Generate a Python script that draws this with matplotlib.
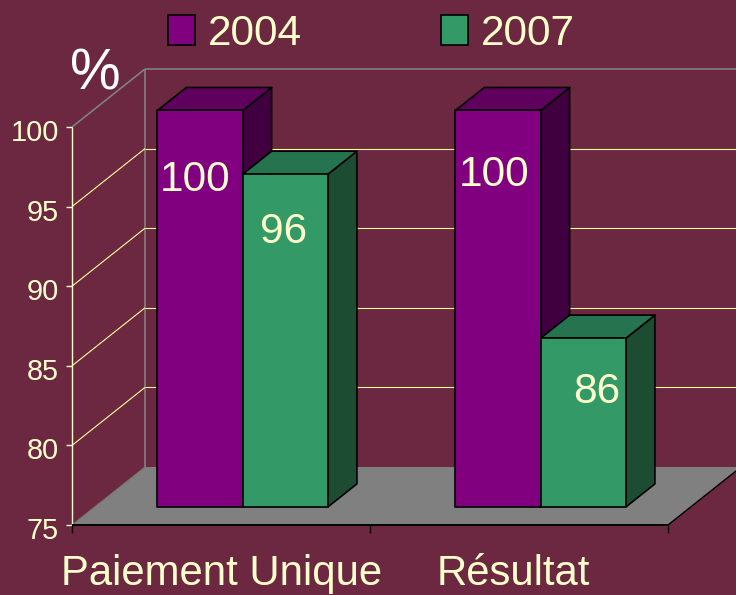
import matplotlib
matplotlib.use("Agg")
import matplotlib.pyplot as plt
from matplotlib.patches import Patch

plt.rcParams['font.family'] = ['Liberation Sans', 'DejaVu Sans']

categories = ["Paiement Unique", "Résultat"]
series_names = ["2004", "2007"]
values_2004 = [100, 100]
values_2007 = [96, 85.7]
y_ticks = [75, 80, 85, 90, 95, 100]

BG = "#6B2840"
CREAM = "#FFFFCC"
GRID = "#FFFF99"
GREY = "#808080"
series_colors = [("#800080", "#5F005F", "#400040"),
                 ("#339966", "#267350", "#1C4D33")]

W, H = 736, 595
fig = plt.figure(figsize=(W / 100, H / 100), dpi=100, facecolor=BG)
ax = fig.add_axes([0, 0, 1, 1])
ax.axis("off")

# scales: front plane of the chart box
PX_X = 298.0      # pixels per category
PX_Y = 15.92      # pixels per value unit
LEFT, BASE = 72.0, 525.0
ax.set_xlim(-LEFT / PX_X, (W - LEFT) / PX_X)
ax.set_ylim(75 - (H - BASE) / PX_Y, 75 + BASE / PX_Y)

DEPTH_X = 73.0 / PX_X
DEPTH_Y = 58.0 / PX_Y
YMIN, YMAX = y_ticks[0], y_ticks[-1]
NCAT = len(categories)
XMAX_BACK = (W - LEFT) / PX_X + 0.1


def proj(x, y, d):
    """Oblique projection: depth d in 0..1 from the front plane to the back wall."""
    return x + DEPTH_X * d, y + DEPTH_Y * d


def poly(points, **kw):
    xs, ys = zip(*[proj(*p) for p in points])
    ax.fill(xs, ys, **kw)


def seg(p, q, **kw):
    a, b = proj(*p), proj(*q)
    ax.plot([a[0], b[0]], [a[1], b[1]], solid_capstyle="butt", **kw)


# floor
poly([(0, YMIN, 0), (NCAT, YMIN, 0), (NCAT, YMIN, 1), (0, YMIN, 1)],
     facecolor=GREY, edgecolor="none", zorder=1)
seg((NCAT, YMIN, 0), (NCAT, YMIN, 1), color="black", lw=1, zorder=2)

# back wall frame
seg((0, YMIN, 1), (0, YMAX, 1), color=GREY, lw=1.2, zorder=2)
seg((0, YMAX, 1), (XMAX_BACK, YMAX, 1), color=GREY, lw=1.2, zorder=2)
seg((0, YMAX, 0), (0, YMAX, 1), color=GREY, lw=1.2, zorder=2)
seg((0, YMIN, 0), (0, YMIN, 1), color="#777766", lw=0.8, zorder=2)

# gridlines
for t in y_ticks[1:-1]:
    seg((0, t, 0), (0, t, 1), color=GRID, lw=0.8, zorder=2)
    seg((0, t, 1), (XMAX_BACK, t, 1), color=GRID, lw=0.8, zorder=2)

# axes
seg((0, YMIN, 0), (0, YMAX, 0), color=CREAM, lw=1, zorder=3)
seg((0, YMIN, 0), (NCAT, YMIN, 0), color="black", lw=1.4, zorder=6)
for t in y_ticks:
    ax.plot([0 - 6 / PX_X, 0], [t, t], color=CREAM, lw=1, zorder=3, solid_capstyle="butt")
    ax.annotate(str(t), xy=(0, t), xytext=(-13 * .72, -6 * .72), textcoords="offset points",
                ha="right", va="center", color=CREAM, fontsize=20.8)
for i in range(NCAT + 1):
    ax.plot([i, i], [YMIN, YMIN - 8 / PX_Y], color="black", lw=1, zorder=3, solid_capstyle="butt")

# bars
BAR_W = 85.3 / PX_X
BAR_FLOOR = 75.1
D0, D1 = 16.5 / 58.0, (16.5 + 23.0) / 58.0
label_drop = [[70, 65], [58, 54]]
label_shift = [[-5, -4], [-2, 13]]
all_values = [values_2004, values_2007]

for s, vals in enumerate(all_values):
    front, top, side = series_colors[s]
    for c, v in enumerate(vals):
        x0 = c + 0.5 - BAR_W + s * BAR_W + 0.003
        x1 = x0 + BAR_W
        z = 10 + c * 4 + s
        style = dict(edgecolor="black", linewidth=1.2, joinstyle="round", zorder=z)
        b = BAR_FLOOR
        poly([(x1, b, D0), (x1, b, D1), (x1, v, D1), (x1, v, D0)], facecolor=side, **style)
        poly([(x0, v, D0), (x1, v, D0), (x1, v, D1), (x0, v, D1)], facecolor=top, **style)
        poly([(x0, b, D0), (x1, b, D0), (x1, v, D0), (x0, v, D0)], facecolor=front, **style)
        px, py = proj((x0 + x1) / 2, v, D0)
        ax.annotate(f"{v:.0f}", xy=(px, py),
                    xytext=(label_shift[s][c] * .72, -label_drop[s][c] * .72),
                    textcoords="offset points", ha="center", va="center",
                    color=CREAM, fontsize=30.5, zorder=30)

# category labels
cat_shift = [1, -6]
for i, name in enumerate(categories):
    ax.annotate(name, xy=(i + 0.5, YMIN), xytext=(cat_shift[i] * .72, -49 * .72),
                textcoords="offset points", ha="center", va="center",
                color=CREAM, fontsize=30.2)

# unit label
ax.annotate("%", xy=(0, YMAX), xytext=(23 * .72, 53 * .72), textcoords="offset points",
            ha="center", va="center", color="white", fontsize=41)

# legend
handles = [Patch(facecolor=series_colors[i][0], edgecolor="black", linewidth=1.2, label=n)
           for i, n in enumerate(series_names)]
leg = ax.legend(handles=handles, ncols=2, frameon=False, fontsize=30.5, labelcolor=CREAM,
                loc="upper left", bbox_to_anchor=(168 / W, 1 - 14 / H), borderaxespad=0,
                borderpad=0, handlelength=0.64, handleheight=0.7, handletextpad=0.30,
                columnspacing=3.28)

fig.savefig("out.png", dpi=100, facecolor=BG)
